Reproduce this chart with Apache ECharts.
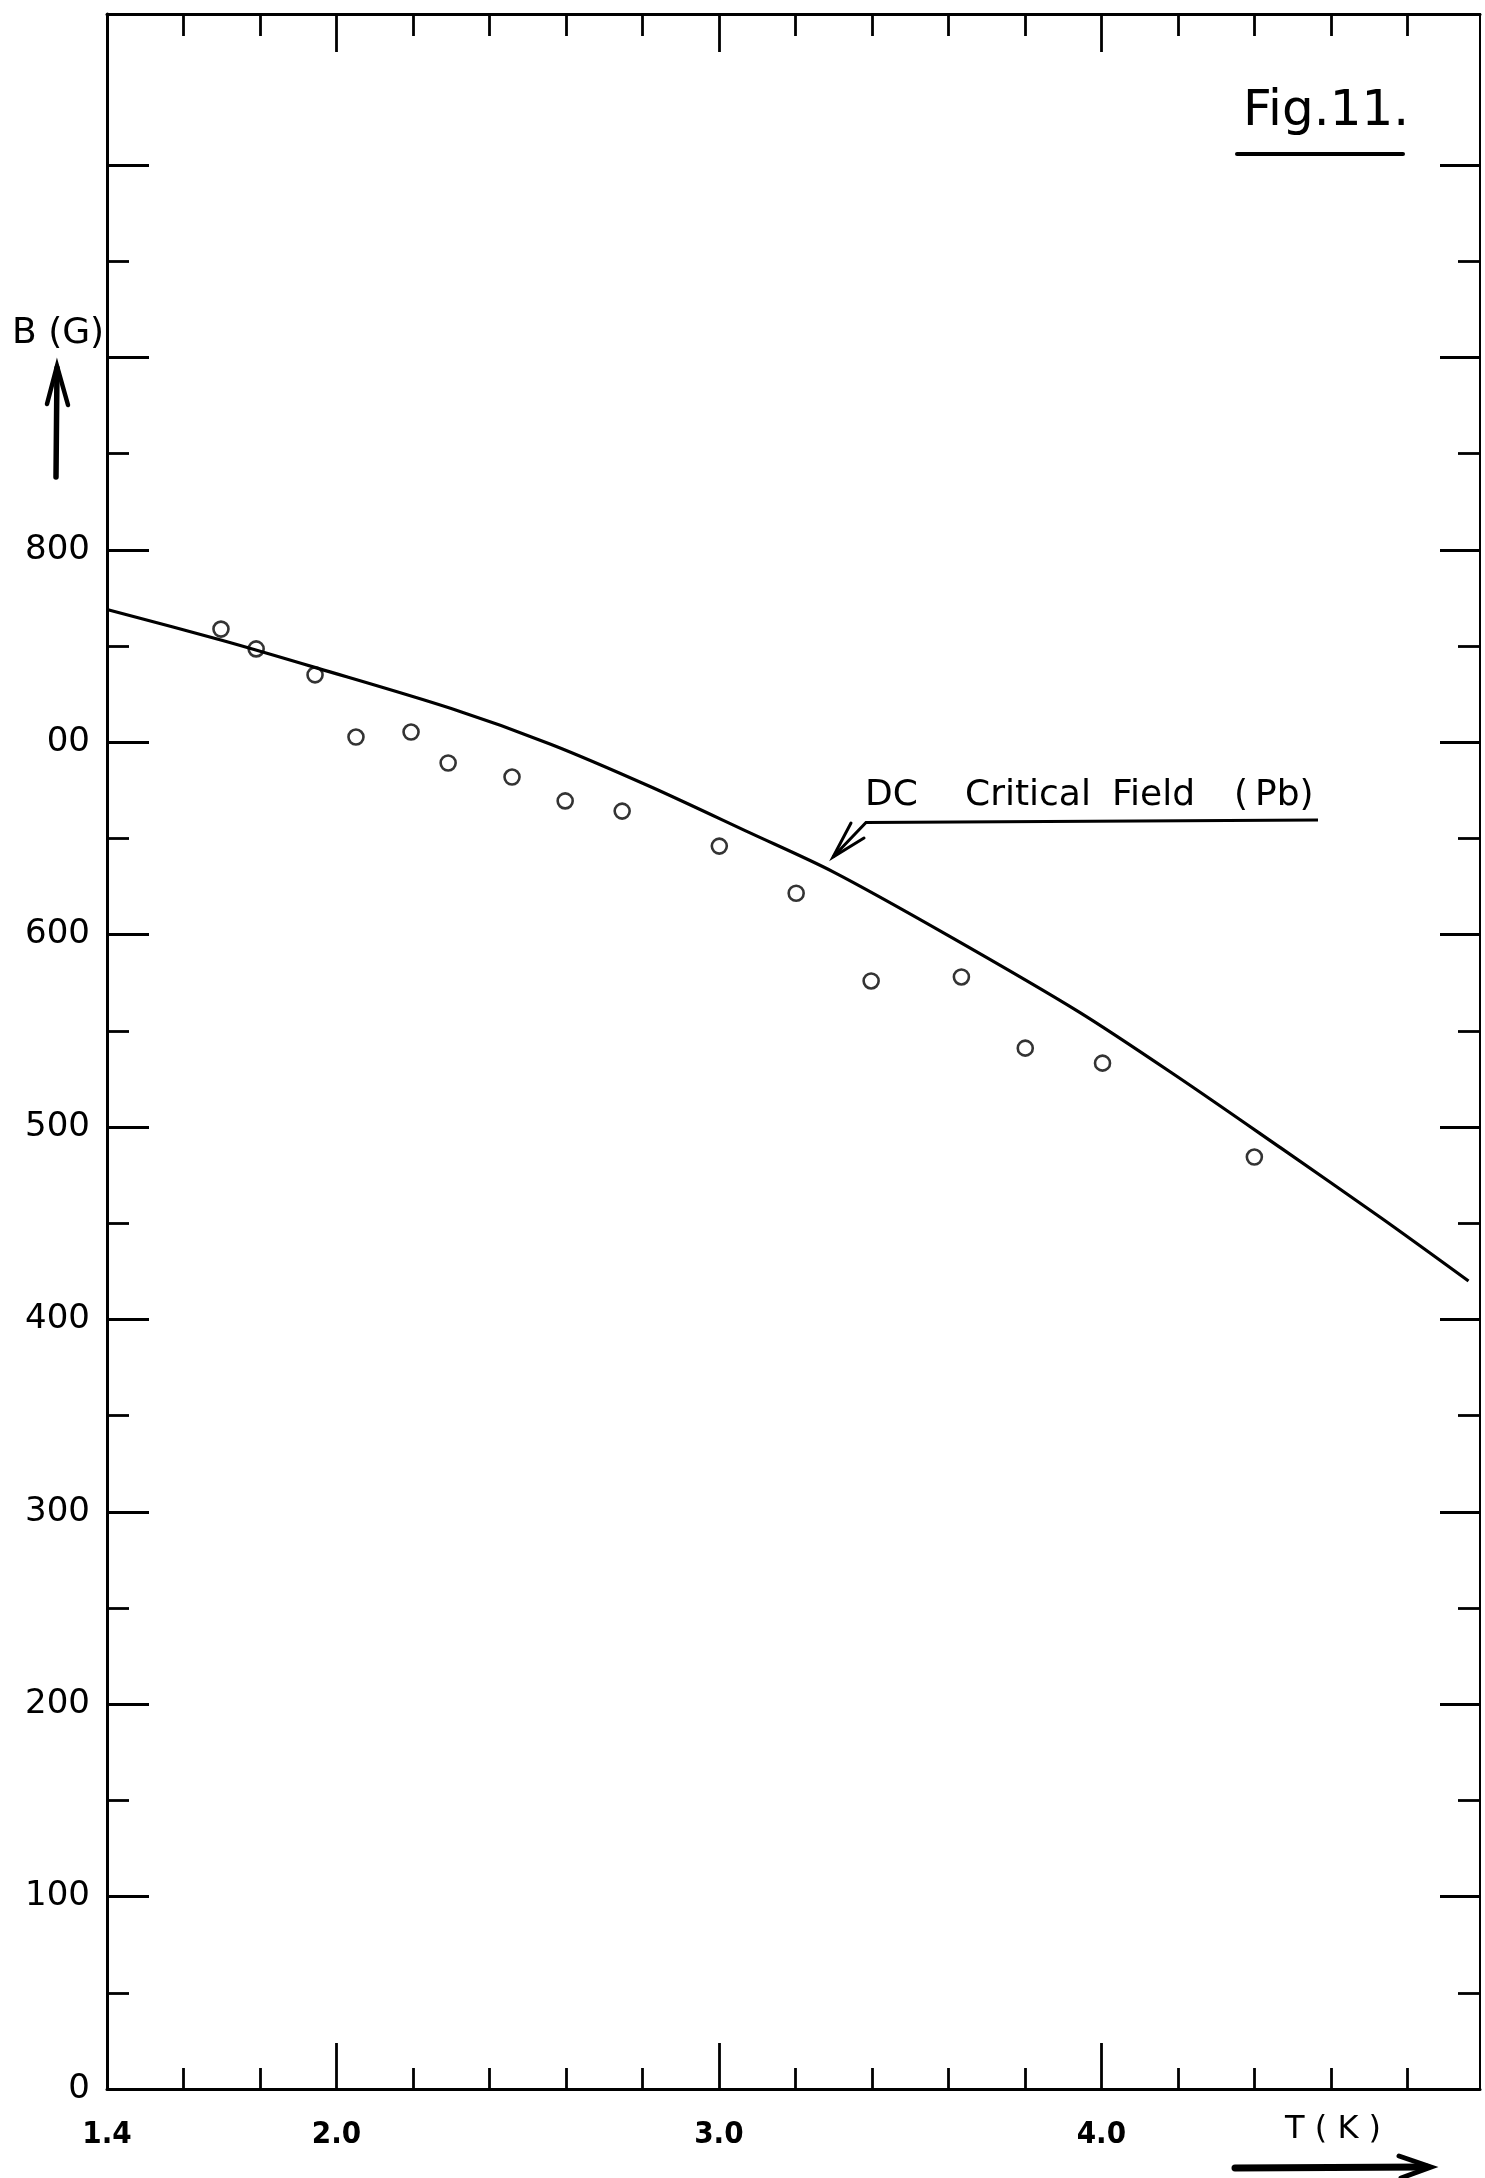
<!DOCTYPE html>
<html>
<head>
<meta charset="utf-8">
<script src="https://cdn.jsdelivr.net/npm/echarts@6/dist/echarts.min.js"></script>
<style>
html,body{margin:0;padding:0;background:#fff;}
#c{width:1485px;height:2178px;}
</style>
</head>
<body>
<div id="c"></div>
<script>
// ---- data ----
const curveT = [1.40, 1.70, 1.95, 2.30, 2.56, 2.82, 3.08, 3.30, 3.60, 3.94, 4.20, 4.47, 4.73, 4.96];
const curveB = [769, 753, 738.5, 717.5, 699, 677, 653, 632.5, 599.5, 560, 526, 489, 453, 420];
const obsT = [1.698, 1.790, 1.944, 2.051, 2.195, 2.292, 2.459, 2.598, 2.747, 3.001, 3.202, 3.398, 3.634, 3.801, 4.003, 4.400];
const obsB = [758.8, 748.5, 735, 702.7, 705.3, 689.2, 681.9, 669.5, 664.2, 646, 621.5, 575.9, 578, 541, 533.2, 484.4];
const xMajorTicks = [2.0, 3.0, 4.0];
const xMinorTicks = [1.6, 1.8, 2.2, 2.4, 2.6, 2.8, 3.2, 3.4, 3.6, 3.8, 4.2, 4.4, 4.6, 4.8];
const xLabels = [1.4, 2.0, 3.0, 4.0];
const yMajorTicks = [100, 200, 300, 400, 500, 600, 700, 800, 900, 1000];
const yMinorTicks = [50, 150, 250, 350, 450, 550, 650, 750, 850, 950];
const yLabels = [0, 100, 200, 300, 400, 500, 600, 700, 800];
const yLabelText = {0:'0',100:'100',200:'200',300:'300',400:'400',500:'500',600:'600',700:'00',800:'800'};

const X_MIN = 1.4, X_MAX = 4.99, Y_MIN = 0, Y_MAX = 1078.5;

const chart = echarts.init(document.getElementById('c'), null, {renderer:'canvas'});

function xAxis(pos, ticks, len, opts) {
  opts = opts || {};
  return {
    type:'value', position:pos, min:X_MIN, max:X_MAX,
    splitLine:{show:false},
    axisLine:{show:!!opts.line, onZero:false, lineStyle:{color:'#000', width:opts.lineW || 3}},
    axisTick:{show:true, inside:true, length:len, customValues:ticks, lineStyle:{color:'#000', width:2.8}},
    axisLabel: opts.labels ? {
      show:true, customValues:xLabels, margin:30,
      formatter:v=>Number(v).toFixed(1),
      color:'#000', fontSize:31, fontWeight:'bold',
      fontFamily:'"DejaVu Sans Condensed","Liberation Sans Narrow","DejaVu Sans",sans-serif'
    } : {show:false}
  };
}
function yAxis(pos, ticks, len, opts) {
  opts = opts || {};
  return {
    type:'value', position:pos, min:Y_MIN, max:Y_MAX,
    splitLine:{show:false},
    axisLine:{show:!!opts.line, onZero:false, lineStyle:{color:'#000', width:opts.lineW || 3}},
    axisTick:{show:true, inside:true, length:len, customValues:ticks, lineStyle:{color:'#000', width:2.8}},
    axisLabel: opts.labels ? {
      show:true, customValues:yLabels, margin:17,
      formatter:v=>yLabelText[Math.round(v)],
      color:'#000', fontSize:34,
      fontFamily:'"DejaVu Sans",sans-serif'
    } : {show:false}
  };
}

const option = {
  animation:false,
  backgroundColor:'#fff',
  grid:{left:107, right:5, top:14, bottom:89, containLabel:false},
  xAxis:[
    xAxis('bottom', xMajorTicks, 46, {line:true, labels:true}),
    xAxis('bottom', xMinorTicks, 21),
    xAxis('top', xMajorTicks, 38, {line:true}),
    xAxis('top', xMinorTicks, 22)
  ],
  yAxis:[
    yAxis('left', yMajorTicks, 42, {line:true, labels:true}),
    yAxis('left', yMinorTicks, 22),
    yAxis('right', yMajorTicks, 40, {line:true, lineW:2}),
    yAxis('right', yMinorTicks, 22)
  ],
  series:[
    {
      name:'DC Critical Field (Pb)', type:'line', xAxisIndex:0, yAxisIndex:0,
      data:curveT.map((t,i)=>[t, curveB[i]]),
      smooth:0.3, symbol:'none',
      lineStyle:{color:'#000', width:3.2}
    },
    {
      name:'measured', type:'scatter', xAxisIndex:0, yAxisIndex:0,
      data:obsT.map((t,i)=>[t, obsB[i]]),
      symbol:'circle', symbolSize:15,
      itemStyle:{color:'#fff', borderColor:'#000', borderWidth:2.6}
    }
  ],
  graphic:[
    // Fig. 11 title
    {type:'text', x:1243, y:112, style:{text:'Fig.11.', fontSize:50, fill:'#000', verticalAlign:'middle', fontFamily:'"DejaVu Sans",sans-serif'}},
    {type:'line', shape:{x1:1237, y1:154, x2:1403, y2:154}, style:{stroke:'#000', lineWidth:4, lineCap:'round'}},
    // Y axis name and arrow
    {type:'text', x:12, y:334, style:{text:'B (G)', fontSize:36, fill:'#000', verticalAlign:'middle', fontFamily:'"DejaVu Sans",sans-serif'}},
    {type:'line', shape:{x1:56, y1:477, x2:57, y2:368}, style:{stroke:'#000', lineWidth:5.5, lineCap:'round'}},
    {type:'polyline', shape:{points:[[47,404],[57,366],[68,405]]}, style:{stroke:'#000', lineWidth:4.5, fill:null, lineCap:'round'}},
    // X axis name and arrow
    {type:'text', x:1285, y:2130, style:{text:'T ( K )', fontSize:32, fill:'#000', verticalAlign:'middle', fontFamily:'"DejaVu Sans",sans-serif'}},
    {type:'line', shape:{x1:1235, y1:2168, x2:1426, y2:2167}, style:{stroke:'#000', lineWidth:7, lineCap:'round'}},
    {type:'polyline', shape:{points:[[1399,2156],[1431,2167],[1401,2178]]}, style:{stroke:'#000', lineWidth:5, fill:null, lineCap:'round'}},
    // curve annotation
    {type:'text', x:865, y:796, style:{text:'DC', fontSize:36, fill:'#000', verticalAlign:'middle', fontFamily:'"DejaVu Sans",sans-serif'}},
    {type:'text', x:965, y:796, style:{text:'Critical', fontSize:36, fill:'#000', verticalAlign:'middle', fontFamily:'"DejaVu Sans",sans-serif'}},
    {type:'text', x:1112, y:796, style:{text:'Field', fontSize:36, fill:'#000', verticalAlign:'middle', fontFamily:'"DejaVu Sans",sans-serif'}},
    {type:'text', x:1234, y:796, style:{text:'(', fontSize:36, fill:'#000', verticalAlign:'middle', fontFamily:'"DejaVu Sans",sans-serif'}},
    {type:'text', x:1255, y:796, style:{text:'Pb)', fontSize:36, fill:'#000', verticalAlign:'middle', fontFamily:'"DejaVu Sans",sans-serif'}},
    {type:'polyline', shape:{points:[[1318,820],[866,822.5],[833,857]]}, style:{stroke:'#000', lineWidth:3, fill:null}},
    {type:'polyline', shape:{points:[[851,823],[833,857],[864,838]]}, style:{stroke:'#000', lineWidth:3, fill:null, lineCap:'round'}}
  ]
};
chart.setOption(option);
</script>
</body>
</html>
